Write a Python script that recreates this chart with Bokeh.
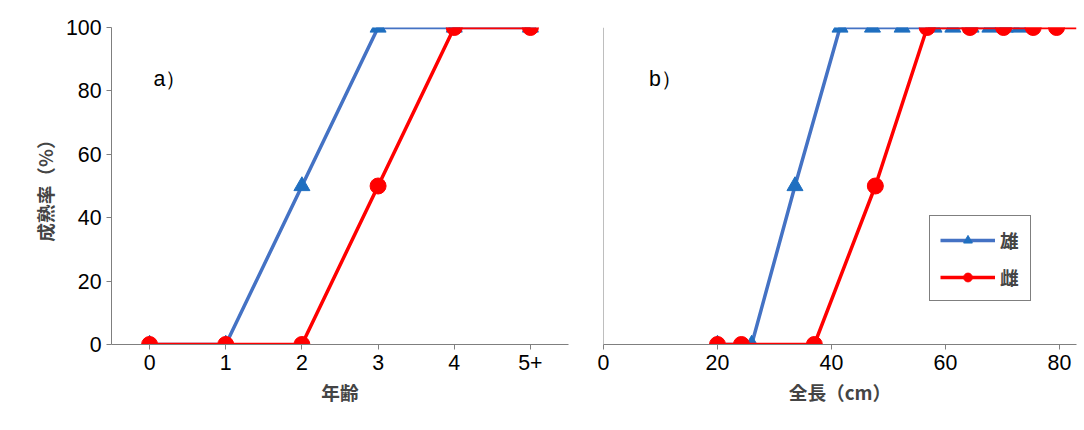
from bokeh.plotting import figure
from bokeh.layouts import row
from bokeh.models import Range1d, FixedTicker, Legend, LegendItem, Label, Span
from bokeh.embed import file_html
from bokeh.resources import INLINE

# panel a: maturity by age
ages = ["0", "1", "2", "3", "4", "5+"]
age_male = [0, 0, 50, 100, 100, 100]
age_female = [0, 0, 0, 50, 100, 100]

# panel b: maturity by total length (cm)
len_male_x = [20, 26, 33.6, 41.5, 47.2, 52.4, 58, 61.3, 64.5, 67.8, 70.5, 73]
len_male_y = [0, 0, 50, 100, 100, 100, 100, 100, 100, 100, 100, 100]
len_female_x = [20, 24.2, 37, 47.7, 56.8, 64.3, 70.2, 75.4, 79.5, 83]
len_female_y = [0, 0, 0, 50, 100, 100, 100, 100, 100, 100]

BLUE = "#4472c4"
TRI = "#1f6fc0"
RED = "#ff0000"
CJK = "Noto Sans CJK JP"
TICK = "Liberation Sans"


def style(p):
    p.xgrid.visible = False
    p.ygrid.visible = False
    p.outline_line_color = None
    for ax in [p.xaxis[0], p.yaxis[0]]:
        ax.axis_line_color = "#7f7f7f"
        ax.major_tick_line_color = "#7f7f7f"
        ax.minor_tick_line_color = None
        ax.major_tick_out = 5
        ax.major_tick_in = 0
        ax.major_label_text_font = TICK
        ax.major_label_text_font_size = "16pt"
        ax.major_label_text_color = "#000000"
        ax.axis_label_text_font = CJK
        ax.axis_label_text_font_size = "14pt"
        ax.axis_label_text_font_style = "bold"
    p.y_range = Range1d(0, 100)
    p.yaxis.ticker = FixedTicker(ticks=[0, 20, 40, 60, 80, 100])


pa = figure(width=588, height=414, output_backend="svg", toolbar_location=None,
            min_border_left=111, min_border_right=20, min_border_top=27, min_border_bottom=70,
            x_axis_label="年齢", y_axis_label="成熟率（%）")
style(pa)
pa.x_range = Range1d(-0.5, 5.5)
pa.xaxis.ticker = FixedTicker(ticks=list(range(6)))
pa.xaxis.major_label_overrides = {i: a for i, a in enumerate(ages)}
xs = list(range(6))
pa.line(xs, age_male, line_color=BLUE, line_width=3.5)
pa.scatter(xs, age_male, marker="triangle", size=16, color=TRI)
pa.line(xs, age_female, line_color=RED, line_width=3.5)
pa.scatter(xs, age_female, size=16, color=RED)
pa.add_layout(Label(x=0.05, y=80, text="a）", text_font=TICK, text_font_size="16pt",
                    text_color="#000000"))

pb = figure(width=490, height=414, output_backend="svg", toolbar_location=None,
            min_border_left=15, min_border_right=2, min_border_top=27, min_border_bottom=70,
            x_axis_label="全長（cm）")
style(pb)
pb.yaxis.visible = False
pb.add_layout(Span(location=0, dimension="height", line_color="#7f7f7f", line_width=1))
pb.x_range = Range1d(0, 83)
pb.xaxis.ticker = FixedTicker(ticks=[0, 20, 40, 60, 80])
lm = pb.line(len_male_x, len_male_y, line_color=BLUE, line_width=3.5)
sm = pb.scatter(len_male_x, len_male_y, marker="triangle", size=16, color=TRI)
lf = pb.line(len_female_x, len_female_y, line_color=RED, line_width=3.5)
sf = pb.scatter(len_female_x[:-1], len_female_y[:-1], size=16, color=RED)
pb.add_layout(Label(x=8, y=80, text="b）", text_font=TICK, text_font_size="16pt",
                    text_color="#000000"))
leg = Legend(items=[LegendItem(label="雄", renderers=[lm, sm]),
                    LegendItem(label="雌", renderers=[lf, sf])],
             location=(326, 43), label_text_font=CJK, label_text_font_size="14pt",
             label_text_font_style="bold", border_line_color="#000000", border_line_width=1,
             glyph_width=55, glyph_height=22, padding=10, spacing=10)
pb.add_layout(leg)

layout = row(pa, pb)
open("out.html", "w").write(file_html(layout, INLINE))
